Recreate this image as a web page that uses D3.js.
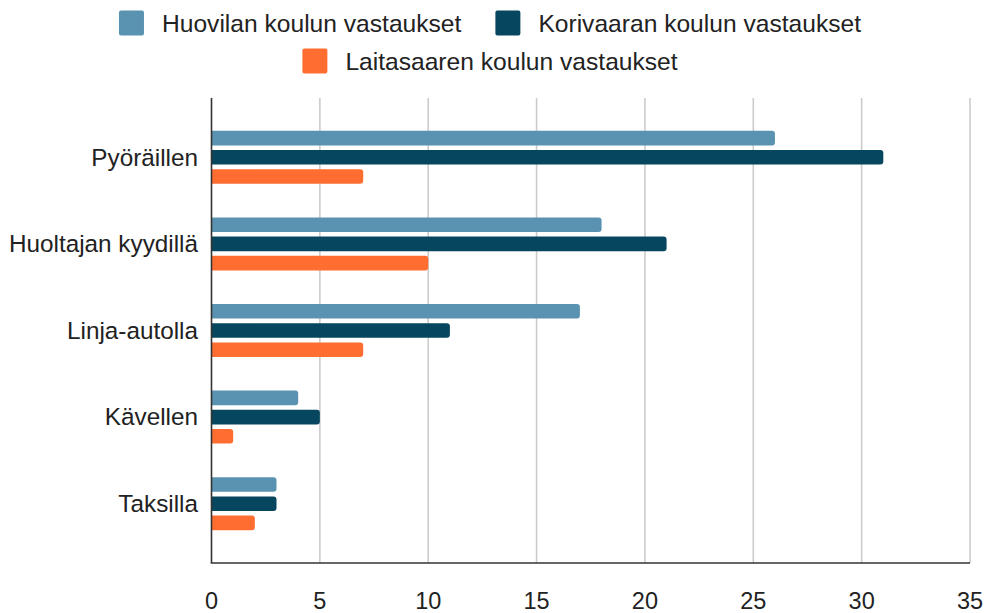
<!DOCTYPE html>
<html>
<head>
<meta charset="utf-8">
<script src="https://cdn.jsdelivr.net/npm/d3@7"></script>
<style>
  body { margin: 0; background: #fff; }
  text { font-family: "Liberation Sans", Arial, sans-serif; fill: #222; }
</style>
</head>
<body>
<svg id="chart" width="986" height="613"></svg>
<script>
// data
const categories = ["Pyöräillen", "Huoltajan kyydillä", "Linja-autolla", "Kävellen", "Taksilla"];
const seriesNames = ["Huovilan koulun vastaukset", "Korivaaran koulun vastaukset", "Laitasaaren koulun vastaukset"];
const huovila = [26, 18, 17, 4, 3];
const korivaara = [31, 21, 11, 5, 3];
const laitasaari = [7, 10, 7, 1, 2];
const xTicks = [0, 5, 10, 15, 20, 25, 30, 35];

const seriesValues = [huovila, korivaara, laitasaari];
const colors = ["#5a93b1", "#07465f", "#ff6d31"];

const plot = { left: 211.5, right: 970, top: 98, bottom: 563 };

const svg = d3.select("#chart");

const x = d3.scaleLinear().domain([0, 35]).range([plot.left, plot.right]);
const y = d3.scalePoint().domain(categories).range([plot.top, plot.bottom]).padding(0.685);
const inner = d3.scaleBand().domain(seriesNames).range([-26.5, 26.5]).paddingInner(0.24);

// gridlines
svg.append("g")
  .selectAll("line")
  .data(xTicks.filter(d => d > 0))
  .join("line")
  .attr("x1", d => x(d)).attr("x2", d => x(d))
  .attr("y1", plot.top).attr("y2", plot.bottom)
  .attr("stroke", "#cccccc")
  .attr("stroke-width", 1.6);

// bars, rounded on the right end
const r = 3;
function barPath(x0, x1, y0, h) {
  const rr = Math.min(r, (x1 - x0) / 2);
  return `M${x0},${y0}H${x1 - rr}Q${x1},${y0} ${x1},${y0 + rr}V${y0 + h - rr}Q${x1},${y0 + h} ${x1 - rr},${y0 + h}H${x0}Z`;
}

const rows = [];
categories.forEach((c, i) => {
  seriesNames.forEach((s, j) => {
    rows.push({ cat: c, series: s, value: seriesValues[j][i], color: colors[j] });
  });
});

svg.append("g")
  .selectAll("path")
  .data(rows)
  .join("path")
  .attr("d", d => barPath(x(0), x(d.value), y(d.cat) + inner(d.series), inner.bandwidth()))
  .attr("fill", d => d.color);

// axes lines
svg.append("line")
  .attr("x1", plot.left).attr("x2", plot.left)
  .attr("y1", plot.top).attr("y2", plot.bottom)
  .attr("stroke", "#333").attr("stroke-width", 1.6);
svg.append("line")
  .attr("x1", plot.left - 0.8).attr("x2", plot.right)
  .attr("y1", plot.bottom).attr("y2", plot.bottom)
  .attr("stroke", "#333").attr("stroke-width", 1.6);

// x tick labels
svg.append("g")
  .selectAll("text")
  .data(xTicks)
  .join("text")
  .attr("x", d => x(d))
  .attr("y", 609)
  .attr("text-anchor", "middle")
  .style("font-size", "23.5px")
  .text(d => d);

// category labels
svg.append("g")
  .selectAll("text")
  .data(categories)
  .join("text")
  .attr("x", 198)
  .attr("y", d => y(d) + 8.3)
  .attr("text-anchor", "end")
  .style("font-size", "24.3px")
  .text(d => d);

// legend
const legendRows = [[0, 1], [2]];
const legendY = [23, 61];
const legendCenter = 490;
legendRows.forEach((row, ri) => {
  const g = svg.append("g");
  let cx = 0;
  row.forEach((si, k) => {
    if (k > 0) cx += 34;
    g.append("rect")
      .attr("x", cx).attr("y", legendY[ri] - 12.5)
      .attr("width", 25).attr("height", 25)
      .attr("rx", 2)
      .attr("fill", colors[si]);
    const t = g.append("text")
      .attr("x", cx + 43)
      .attr("y", legendY[ri] + 8.5)
      .style("font-size", "24.6px")
      .text(seriesNames[si]);
    cx += 43 + t.node().getComputedTextLength();
  });
  g.attr("transform", `translate(${legendCenter - cx / 2},0)`);
});
</script>
</body>
</html>
